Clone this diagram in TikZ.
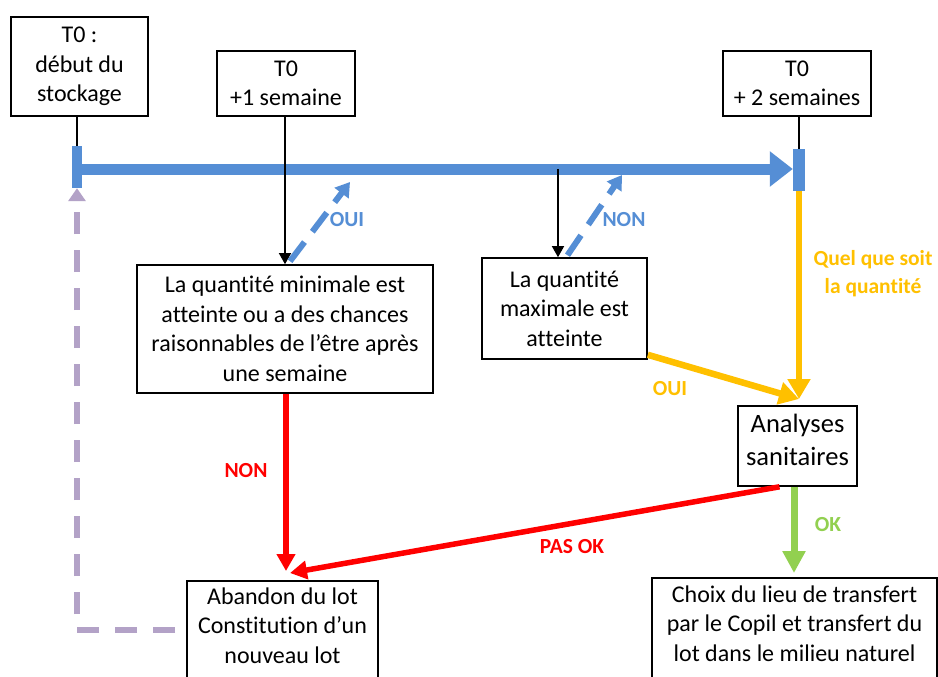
\documentclass[tikz,border=0pt]{standalone}
\usepackage{fontspec}
\setmainfont{Carlito}[Ligatures=NoCommon]
\usetikzlibrary{arrows.meta}
\definecolor{tlblue}{HTML}{558ED5}
\definecolor{ylw}{HTML}{FFC000}
\definecolor{rd}{HTML}{FF0000}
\definecolor{grn}{HTML}{92D050}
\definecolor{lav}{HTML}{B3A2C7}
\begin{document}
\begin{tikzpicture}[x=1pt,y=-1pt,
  box/.style={draw,line width=1.6pt,align=center,inner sep=0pt,font=\fontsize{24}{29.5}\selectfont},
  lbl/.style={font=\bfseries\fontsize{21.5}{28}\selectfont,align=center,inner sep=0pt},
  tick/.style={fill=tlblue,inner sep=0pt,minimum width=10pt,minimum height=42pt},
  thinline/.style={line width=1.4pt},
  thinarrow/.style={line width=1.4pt,-{Triangle[length=11pt,width=12pt]}},
  timeline/.style={tlblue,line width=11pt,-{Triangle[length=23pt,width=34pt]}},
  bluedash/.style={tlblue,line width=6pt,dash pattern=on 24pt off 13pt,-{Triangle[length=14pt,width=17pt]}},
  redarrow/.style={rd,line width=5.5pt,-{Triangle[length=17pt,width=18pt]}},
  yarrow/.style={ylw,line width=6.5pt,-{Triangle[length=20pt,width=22pt]}},
  garrow/.style={grn,line width=7pt,-{Triangle[length=22pt,width=22pt]}},
  pdash/.style={lav,line width=6pt,dash pattern=on 22pt off 16pt,-{Triangle[length=13pt,width=17pt]}}
]
\fill[white] (0,0) rectangle (938,677);
\useasboundingbox (0,0) rectangle (938,677);

% boxes
\node[box,minimum width=137pt,minimum height=99pt] (b1) at (79.5,66.5) {T0 :\\début du\\stockage};
\node[box,minimum width=138pt,minimum height=65pt] (b2) at (286,83.5) {T0\\+1 semaine};
\node[box,minimum width=148pt,minimum height=65pt] (b3) at (797,83.5) {T0\\+ 2 semaines};
\node[box,minimum width=296pt,minimum height=128pt] (mn) at (285,329) {La quantité minimale est\\atteinte ou a des chances\\raisonnables de l’être après\\une semaine};
\node[box,minimum width=165pt,minimum height=101pt] (mx) at (564.5,308.5) {La quantité\\maximale est\\atteinte};
\node[box,minimum width=119pt,minimum height=80pt,text depth=12pt,font=\fontsize{26.5}{33}\selectfont] (an) at (797.5,446) {Analyses\\sanitaires};
\node[box,minimum width=191pt,anchor=north,inner ysep=7pt,text depth=45pt] (ab) at (282.5,580) {Abandon du lot\\Constitution d’un\\nouveau lot};
\node[box,minimum width=285pt,anchor=north,inner ysep=8pt,text depth=45pt] (ch) at (794.5,577) {Choix du lieu de transfert\\par le Copil et transfert du\\lot dans le milieu naturel};

% timeline
\node[tick] (tl) at (77,167) {};
\node[tick,minimum width=12pt] (tr) at (799,170) {};
\coordinate (tp) at (558,169);
\draw[timeline] (tl.center |- tp) -- (tr.west |- tp);

% black connectors
\draw[thinline] (tl.north |- b1.south) -- (tl.north);
\draw[thinline] (tr.north |- b3.south) -- (tr.north);
\draw[thinarrow] (b2.south -| mn.north) -- (mn.north);
\draw[thinarrow] (tp) -- (tp |- mx.north);

% blue dashed returns
\coordinate (o1) at (350,182);
\coordinate (n1) at (622,175);
\draw[bluedash] ([xshift=5pt,yshift=3pt]mn.north) -- (o1);
\draw[bluedash] ([xshift=3pt,yshift=2pt]mx.north) -- (n1);

% yellow
\coordinate (yt) at (799,399);
\draw[yarrow] (tr.south) -- (yt);
\draw[yarrow] ([yshift=5pt]mx.south east) -- (yt);

% red
\coordinate (rt) at (286,571);
\coordinate (rt2) at (290,573);
\draw[redarrow] (mn.south -| rt) -- (rt);
\draw[redarrow] ([xshift=-18pt]an.south) -- (rt2);

% green
\coordinate (gt) at (794,573);
\draw[garrow] (an.south -| gt) -- (gt);

% purple dashed
\coordinate (ps) at (175,630);
\draw[pdash] (ps) -| (tl.south);

% labels
\node[lbl,text=tlblue] (l1) at (347,220) {OUI};
\node[lbl,text=tlblue] (l2) at (624,220) {NON};
\node[lbl,text=rd] (l3) at (246,471) {NON};
\node[lbl,text=rd] (l4) at (572,547) {PAS OK};
\node[lbl,text=ylw] (l5) at (670,389) {OUI};
\node[lbl,text=ylw] (l6) at (873,274) {Quel que soit\\la quantité};
\node[lbl,text=grn] (l7) at (828,525) {OK};
\end{tikzpicture}
\end{document}
